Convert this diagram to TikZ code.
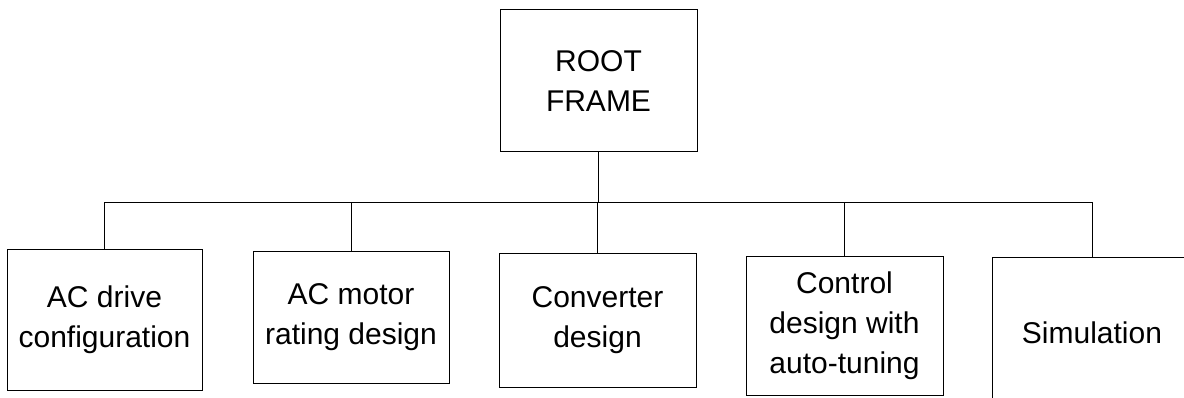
\documentclass[tikz,border=0pt]{standalone}
\usepackage{fontspec}
\setmainfont{Liberation Sans}
\begin{document}
\begin{tikzpicture}[x=1pt,y=-1pt,
  box/.style={draw, line width=1pt, align=center, inner sep=0pt,
    font=\fontsize{30}{40}\selectfont},
  link/.style={line width=1pt}]
\useasboundingbox (0,0) rectangle (1184,398);
\clip (0,0) rectangle (1184,398);
\node[box, minimum width=197pt, minimum height=142pt] (root) at (598.5,81) {ROOT\\FRAME};
\node[box, minimum width=195pt, minimum height=140pt] (b1) at (104.5,320) {AC drive\\configuration};
\node[box, minimum width=196pt, minimum height=131pt] (b2) at (351,317.5) {AC motor\\rating design};
\node[box, minimum width=197pt, minimum height=133pt] (b3) at (597.5,320.5) {Converter\\design};
\node[box, minimum width=197pt, minimum height=138pt] (b4) at (844.5,326) {Control\\design with\\auto-tuning};
\node[box, minimum width=200pt, minimum height=150pt] (b5) at (1092,333) {Simulation};
\coordinate (bus) at (0,203);
\draw[link] (b1.north) -- (b1.north |- bus) -- (b5.north |- bus) -- (b5.north);
\draw[link] (root.south) -- (root.south |- bus);
\foreach \b in {b2,b3,b4} \draw[link] (\b.north) -- (\b.north |- bus);
\end{tikzpicture}
\end{document}
